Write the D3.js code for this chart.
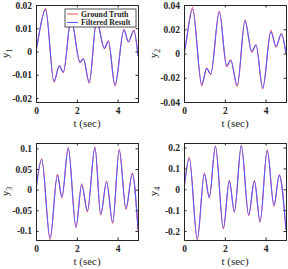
<!DOCTYPE html>
<html>
<head>
<meta charset="utf-8">
<script src="https://cdn.jsdelivr.net/npm/d3@7"></script>
<style>
body{margin:0;background:#fff;}
svg text{font-family:"Liberation Serif","Times New Roman",serif;fill:#262626;}
.tick text{font-weight:bold;font-size:9.5px;}
.gt{fill:none;stroke:#ff5a5a;stroke-width:1.1;}
.fr{fill:none;stroke:#5a5aff;stroke-width:1.1;}
</style>
</head>
<body>
<script>
// y1
var t1   = [0, 0.08, 0.47, 0.88, 1.14, 1.34, 1.72, 2.16, 2.32, 2.61, 2.97, 3.35, 3.55, 3.87, 4.31, 4.53, 4.80, 5.0];
var gt1  = [0, 0.004, 0.0185, -0.0132, -0.0060, -0.0090, 0.0140, -0.0048, -0.0030, -0.0136, 0.0135, 0.0012, 0.0046, -0.0148, 0.0096, 0.0041, 0.0092, -0.0020];
var fr1  = [0, 0.004, 0.0180, -0.0128, -0.0062, -0.0088, 0.0138, -0.0046, -0.0031, -0.0132, 0.0132, 0.0014, 0.0044, -0.0144, 0.0092, 0.0043, 0.0089, -0.0020];
// y2
var t2   = [0, 0.07, 0.42, 0.87, 1.11, 1.31, 1.73, 2.09, 2.29, 2.61, 2.99, 3.32, 3.53, 3.86, 4.26, 4.51, 4.77, 5.0];
var gt2  = [0, 0.006, 0.0378, -0.0265, -0.0120, -0.0172, 0.0350, -0.0108, -0.0052, -0.0272, 0.0275, 0.0010, 0.0072, -0.0292, 0.0192, 0.0052, 0.0165, 0];
var fr2  = [0, 0.006, 0.0365, -0.0255, -0.0125, -0.0168, 0.0342, -0.0100, -0.0056, -0.0264, 0.0268, 0.0018, 0.0068, -0.0283, 0.0178, 0.0058, 0.0160, 0];
// y3
var t3   = [0, 0.28, 0.69, 1.05, 1.27, 1.58, 1.96, 2.24, 2.52, 2.89, 3.17, 3.46, 3.76, 4.08, 4.41, 4.72, 5.0];
var gt3  = [0, 0.075, -0.121, 0.038, -0.020, 0.102, -0.093, 0.014, -0.054, 0.104, -0.062, 0.020, -0.082, 0.098, -0.048, 0.040, -0.098];
var fr3  = [0, 0.073, -0.118, 0.035, -0.018, 0.100, -0.090, 0.012, -0.051, 0.102, -0.059, 0.018, -0.079, 0.096, -0.046, 0.038, -0.096];
// y4
var t4   = [0, 0.26, 0.65, 1.00, 1.24, 1.54, 1.93, 2.22, 2.47, 2.81, 3.17, 3.45, 3.73, 4.08, 4.41, 4.67, 5.0];
var gt4  = [0, 0.153, -0.243, 0.078, -0.041, 0.208, -0.190, 0.043, -0.110, 0.211, -0.127, 0.042, -0.158, 0.190, -0.081, 0.070, -0.196];
var fr4  = [0, 0.148, -0.238, 0.073, -0.038, 0.205, -0.185, 0.039, -0.106, 0.208, -0.122, 0.039, -0.154, 0.186, -0.077, 0.067, -0.194];

var xTicks = [0, 2, 4];
var legendLabels = ["Ground Truth", "Filtered Result"];

var W = 288, H = 269, pw = 102, ph = 97;
var svg = d3.select("body").append("svg").attr("width", W).attr("height", H);

var panels = [
  {n:"1", t:t1, gt:gt1, fr:fr1, dom:[-0.0217, 0.02], ticks:[-0.02,-0.01,0,0.01,0.02], x0:36,  y0:5},
  {n:"2", t:t2, gt:gt2, fr:fr2, dom:[-0.04, 0.04],   ticks:[-0.04,-0.02,0,0.02,0.04], x0:184, y0:5},
  {n:"3", t:t3, gt:gt3, fr:fr3, dom:[-0.122, 0.113], ticks:[-0.1,-0.05,0,0.05,0.1],   x0:36,  y0:143},
  {n:"4", t:t4, gt:gt4, fr:fr4, dom:[-0.243, 0.222], ticks:[-0.2,-0.1,0,0.1,0.2],     x0:184, y0:143}
];

var fmt = function(v){ return v === 0 ? "0" : String(+v.toFixed(3)); };

panels.forEach(function(p, k){
  var g = svg.append("g").attr("transform", "translate(" + p.x0 + "," + p.y0 + ")");
  var x = d3.scaleLinear().domain([0, 5]).range([0, pw]);
  var y = d3.scaleLinear().domain(p.dom).range([ph, 0]);

  g.append("clipPath").attr("id", "c" + k).append("rect").attr("width", pw).attr("height", ph);

  var line = function(vals){
    return d3.line().curve(d3.curveMonotoneX)
      .x(function(d, i){ return x(p.t[i]); })
      .y(function(d){ return y(d); })(vals);
  };
  var lg = g.append("g").attr("clip-path", "url(#c" + k + ")");
  lg.append("path").attr("class", "gt").attr("d", line(p.gt));
  lg.append("path").attr("class", "fr").attr("d", line(p.fr));

  // axes, ticks inside
  var ax = [
    g.append("g").attr("transform", "translate(0," + ph + ")").call(d3.axisBottom(x).tickValues(xTicks).tickSize(-2.5).tickPadding(5).tickFormat(d3.format("d"))),
    g.append("g").call(d3.axisTop(x).tickValues(xTicks).tickSize(-2.5).tickFormat("")),
    g.append("g").call(d3.axisLeft(y).tickValues(p.ticks).tickSize(-2.5).tickPadding(4).tickFormat(fmt)),
    g.append("g").attr("transform", "translate(" + pw + ",0)").call(d3.axisRight(y).tickValues(p.ticks).tickSize(-2.5).tickFormat(""))
  ];
  ax.forEach(function(a){
    a.select(".domain").attr("stroke", "#262626");
    a.selectAll(".tick line").attr("stroke", "#262626");
  });

  g.append("text").attr("x", pw / 2).attr("y", ph + 25).attr("text-anchor", "middle")
    .style("font-size", "11px").text("t (sec)");

  var yl = g.append("text").attr("transform", "translate(-27," + (ph / 2) + ") rotate(-90)")
    .attr("text-anchor", "middle").style("font-size", "11px");
  yl.append("tspan").text("y");
  yl.append("tspan").attr("dy", 3).style("font-size", "8px").text(p.n);

  if (k === 0) {
    var leg = g.append("g").attr("transform", "translate(29,4)");
    leg.append("rect").attr("width", 71).attr("height", 18).attr("fill", "#fff")
      .attr("stroke", "#262626").attr("stroke-width", 0.8);
    legendLabels.forEach(function(s, i){
      var yy = 5 + i * 8.5;
      leg.append("line").attr("x1", 2).attr("x2", 13).attr("y1", yy).attr("y2", yy)
        .attr("class", i === 0 ? "gt" : "fr");
      leg.append("text").attr("x", 16).attr("y", yy + 2.6)
        .style("font-size", "7.8px").style("font-weight", "bold").text(s);
    });
  }
});
</script>
</body>
</html>
